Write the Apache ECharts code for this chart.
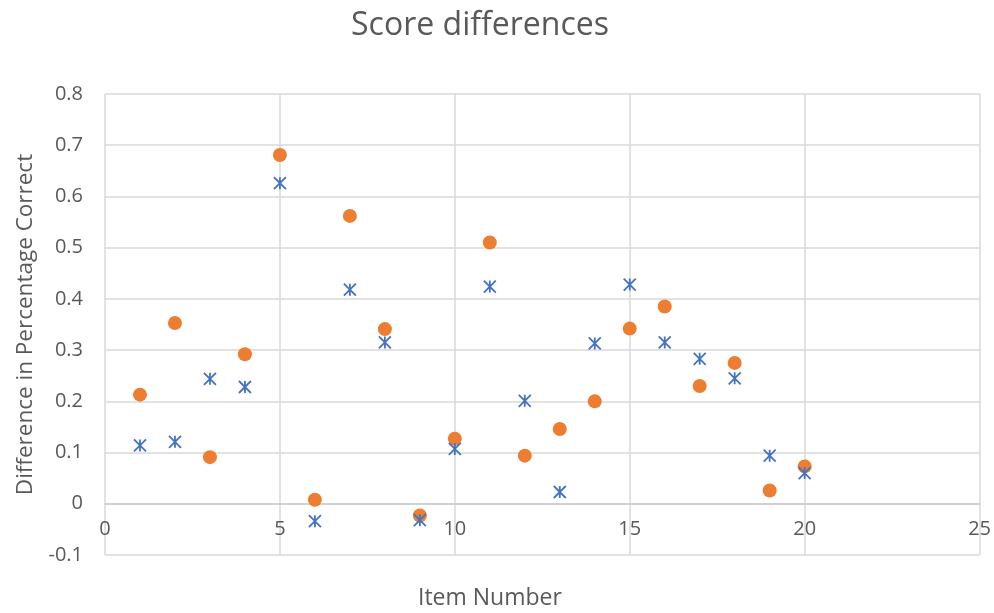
<!DOCTYPE html>
<html>
<head>
<meta charset="utf-8">
<script src="https://cdn.jsdelivr.net/npm/echarts@6/dist/echarts.min.js"></script>
<style>
html,body{margin:0;padding:0;background:#fff;}
#main{width:994px;height:613px;}
</style>
</head>
<body>
<div id="main"></div>
<script>
const itemNumbers = [1,2,3,4,5,6,7,8,9,10,11,12,13,14,15,16,17,18,19,20];
const orangeValues = [0.213,0.353,0.091,0.292,0.681,0.008,0.562,0.341,-0.023,0.127,0.510,0.094,0.146,0.200,0.342,0.385,0.230,0.275,0.026,0.073];
const blueValues = [0.114,0.121,0.244,0.228,0.626,-0.034,0.418,0.315,-0.032,0.107,0.424,0.201,0.023,0.313,0.428,0.315,0.283,0.245,0.094,0.060];
const titleText = 'Score differences';
const xAxisTitle = 'Item Number';
const yAxisTitle = 'Difference in Percentage Correct';

const FONT = 'Open Sans';
const TXT = '#595959';
const GRID = '#D9D9D9';

const chart = echarts.init(document.getElementById('main'));
chart.setOption({
  animation: false,
  title: {
    text: titleText,
    left: 475,
    top: 5,
    textAlign: 'center',
    textStyle: {fontFamily: FONT, fontSize: 32, fontWeight: 'normal', color: TXT}
  },
  grid: {left: 105, right: 10, top: 94, bottom: 58, containLabel: false},
  xAxis: {
    type: 'value', min: 0, max: 25, interval: 5,
    offset: -51.2,
    axisLine: {show: true, onZero: false, lineStyle: {color: '#CCCCCC', width: 1.5}},
    axisTick: {show: false},
    axisLabel: {fontFamily: FONT, fontSize: 20, color: TXT, margin: 15},
    splitLine: {show: true, lineStyle: {color: GRID, width: 1.5}}
  },
  yAxis: {
    type: 'value', min: -0.1, max: 0.8, interval: 0.1,
    name: yAxisTitle, nameLocation: 'middle', nameGap: 64, nameRotate: 90,
    nameTextStyle: {fontFamily: FONT, fontSize: 22.5, color: TXT},
    axisLine: {show: false},
    axisTick: {show: false},
    axisLabel: {fontFamily: FONT, fontSize: 20, color: TXT, margin: 22,
      formatter: v => String(Math.round(v * 10) / 10)},
    splitLine: {show: true, lineStyle: {color: GRID, width: 1.5}}
  },
  graphic: [{
    type: 'text', left: 418, top: 587,
    style: {text: xAxisTitle, fill: TXT, font: '23px "Open Sans"'}
  }],
  series: [
    {
      type: 'scatter', name: 'A',
      data: itemNumbers.map((x, i) => [x, orangeValues[i]]),
      symbol: 'circle', symbolSize: 14,
      itemStyle: {color: '#ED7D31', opacity: 1}
    },
    {
      type: 'scatter', name: 'B',
      data: itemNumbers.map((x, i) => [x, blueValues[i]]),
      symbol: 'path://M0,0L10,10M10,0L0,10M5,0L5,10', symbolSize: 12,
      itemStyle: {color: 'rgba(0,0,0,0)', borderColor: '#4472C4', borderWidth: 1.8, opacity: 1}
    }
  ]
});
</script>
</body>
</html>
